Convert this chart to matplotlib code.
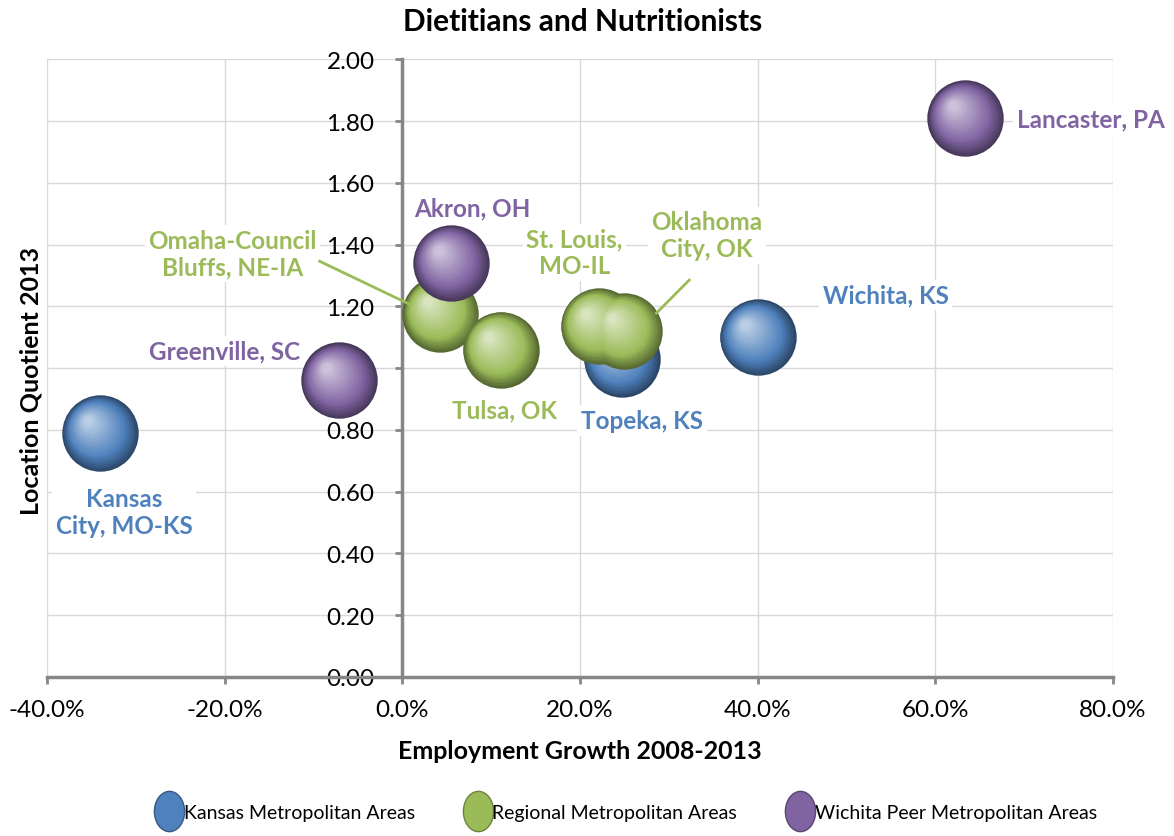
import matplotlib
matplotlib.use("Agg")
import matplotlib.pyplot as plt
import matplotlib.transforms as mtransforms
from matplotlib.lines import Line2D
from matplotlib.path import Path
from matplotlib.ticker import FuncFormatter, MultipleLocator
import numpy as np

plt.rcParams['font.family'] = ['Lato', 'DejaVu Sans']

# data: (growth %, location quotient)
kansas_names = ["Kansas\nCity, MO-KS", "Topeka, KS", "Wichita, KS"]
kansas_growth = [-34.0, 24.7, 40.0]
kansas_lq = [0.79, 1.03, 1.10]

regional_names = ["Oklahoma\nCity, OK", "Omaha-Council\nBluffs, NE-IA", "Tulsa, OK", "St. Louis,\nMO-IL"]
regional_growth = [25.0, 4.3, 11.1, 22.1]
regional_lq = [1.12, 1.175, 1.06, 1.136]

peer_names = ["Greenville, SC", "Akron, OH", "Lancaster, PA"]
peer_growth = [-7.1, 5.5, 63.4]
peer_lq = [0.96, 1.34, 1.81]

# label placement (data coords) and optional leader line
label_pos = {
    "Kansas\nCity, MO-KS": (-31.3, 0.535),
    "Topeka, KS": (27.0, 0.83),
    "Wichita, KS": (54.4, 1.236),
    "Oklahoma\nCity, OK": (34.3, 1.43),
    "Omaha-Council\nBluffs, NE-IA": (-19.1, 1.37),
    "Tulsa, OK": (11.5, 0.864),
    "St. Louis,\nMO-IL": (19.4, 1.375),
    "Greenville, SC": (-20.0, 1.055),
    "Akron, OH": (7.9, 1.52),
    "Lancaster, PA": (77.5, 1.806),
}
leaders = {
    "Omaha-Council\nBluffs, NE-IA": ((-9.3, 1.346), (0.8, 1.207)),
    "Oklahoma\nCity, OK": ((32.3, 1.285), (28.6, 1.178)),
}

blue = "#4F81BD"
green = "#9BBB59"
purple = "#8064A2"


def mix(c1, c2, t):
    a = np.array(matplotlib.colors.to_rgb(c1))
    b = np.array(matplotlib.colors.to_rgb(c2))
    return tuple(a + (b - a) * t)


fig = plt.figure(figsize=(11.74, 8.37), dpi=100)
ax = fig.add_axes([0.040, 0.190, 0.908, 0.738])
ax.set_xlim(-40, 80)
ax.set_ylim(0, 2.0)

R = 27.5  # sphere radius in points
layers = 30


def spheres(xs, ys, col, z):
    dark = mix(col, "black", 0.45)
    light = mix(col, "white", 0.6)
    for i in range(layers):
        t = i / (layers - 1)
        r = R * (1 - 0.88 * t)
        off = (R - r) * 0.5
        if t < 0.3:
            c = mix(dark, col, t / 0.3)
        else:
            c = mix(col, light, (t - 0.3) / 0.7)
        tr = mtransforms.offset_copy(ax.transData, fig=fig, x=-off * 0.75, y=off * 0.75, units='points')
        ax.scatter(xs, ys, s=(2 * r) ** 2, color=c, lw=0, transform=tr, zorder=z + i * 0.001)


spheres(kansas_growth, kansas_lq, blue, 3)
spheres(regional_growth, regional_lq, green, 4)
spheres(peer_growth, peer_lq, purple, 5)

for names, col in [(kansas_names, blue), (regional_names, green), (peer_names, purple)]:
    for n in names:
        x, y = label_pos[n]
        ax.text(x, y, n, color=col, fontsize=17.5, fontweight='bold', ha='center', va='center',
                linespacing=1.2, zorder=6,
                bbox=dict(boxstyle='square,pad=0.15', fc='white', ec='none'))
        if n in leaders:
            (x0, y0), (x1, y1) = leaders[n]
            ax.plot([x0, x1], [y0, y1], color=col, lw=2, zorder=7)

# axes styling
ax.grid(True, color="#D9D9D9", lw=1)
ax.set_axisbelow(True)
ax.xaxis.set_major_locator(MultipleLocator(20))
ax.yaxis.set_major_locator(MultipleLocator(0.2))
ax.xaxis.set_major_formatter(FuncFormatter(lambda v, p: f"{v:.1f}%"))
ax.yaxis.set_major_formatter(FuncFormatter(lambda v, p: f"{v:.2f}"))
for s in ['top', 'right']:
    ax.spines[s].set_visible(False)
ax.spines['left'].set_position(('data', 0))
for s in ['left', 'bottom']:
    ax.spines[s].set_color("#868686")
    ax.spines[s].set_linewidth(2.5)
    ax.spines[s].set_zorder(2.5)
ax.tick_params(axis='both', colors="#868686", width=2, length=5, labelsize=17.5, labelcolor='black')
ax.tick_params(axis='x', pad=11)
ax.tick_params(axis='y', pad=15)

fig.text(0.496, 0.974, "Dietitians and Nutritionists", fontsize=21.5, fontweight='bold', ha='center', va='center')
fig.text(0.494, 0.1016, "Employment Growth 2008-2013", fontsize=18, fontweight='bold', ha='center', va='center')
fig.text(0.026, 0.545, "Location Quotient 2013", fontsize=18, fontweight='bold', ha='center', va='center',
         rotation=90)

# legend with tall ellipse markers
ell = Path.unit_circle().transformed(mtransforms.Affine2D().scale(0.75, 1.0))
handles = [Line2D([], [], ls='none', marker=ell, markersize=29, markerfacecolor=c,
                  markeredgecolor=mix(c, 'black', 0.3), markeredgewidth=1)
           for c in [blue, green, purple]]
fig.legend(handles, ["Kansas Metropolitan Areas", "Regional Metropolitan Areas", "Wichita Peer Metropolitan Areas"],
           loc='center', bbox_to_anchor=(0.533, 0.028), ncol=3, frameon=False, fontsize=14,
           handletextpad=0.0, columnspacing=2.5, handlelength=1.5)

fig.savefig("out.png", dpi=100)
